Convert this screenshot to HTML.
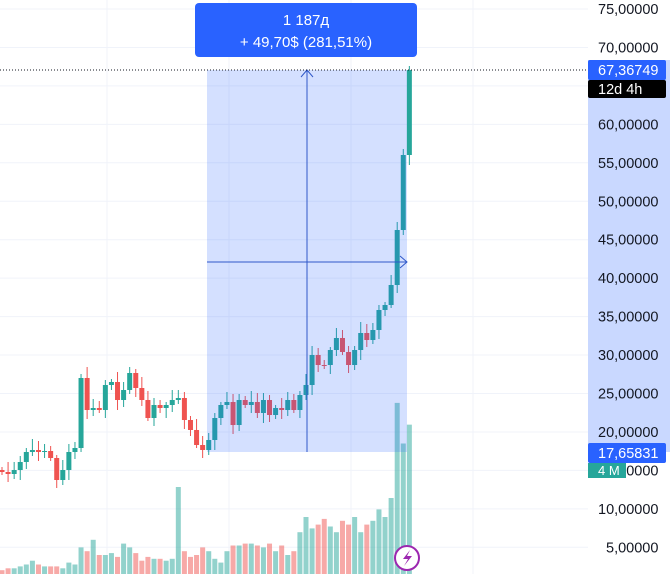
<!DOCTYPE html>
<html><head><meta charset="utf-8"><style>
html,body{margin:0;padding:0;background:#fff;}
body{width:670px;height:574px;overflow:hidden;position:relative;font-family:"Liberation Sans",sans-serif;}
svg{position:absolute;left:0;top:0;}
</style></head><body>
<svg id="s" width="670" height="574" xmlns="http://www.w3.org/2000/svg"></svg>
<script>
const s=document.getElementById('s');let h='';
for(let p=5;p<=75;p+=5){const y=9+(75-p)*7.69;h+=`<line x1="0" x2="588" y1="${y}" y2="${y}" stroke="#f0f3fa"/>`;}
[107,229,351,473].forEach(x=>h+=`<line x1="${x}" x2="${x}" y1="0" y2="574" stroke="#f0f3fa"/>`);
const closes=[472,474,470,462,452,450,452,451,458,480,470,452,448,378,410,408,410,385,382,400,390,373,388,400,418,405,408,405,400,398,420,430,445,450,440,418,405,402,425,400,405,402,413,400,415,408,410,400,410,395,385,355,365,365,350,338,352,365,350,333,340,330,310,305,285,230,155,70];
const vols=[2,3,3,4,5,7,5,4,4,4,3,6,5,14,12,18,10,10,11,9,16,14,11,7,9,8,8,7,8,60,12,9,10,14,12,8,6,12,15,15,16,16,15,14,16,12,15,10,12,22,30,24,26,29,25,22,28,26,30,22,26,28,34,30,40,118,90,103];
closes.forEach((c,i)=>{const x=2+i*6.08;const o=i==0?470:closes[i-1];const up=c<o;
 const v=vols[i];const m=i>=65?1.45:(i==29?1.45:1.9);const vy=574-v*m;
 h+=`<rect x="${x-2.5}" y="${vy}" width="5" height="${574-vy}" fill="${(up||i==29)?'#26a69a':'#ef5350'}" fill-opacity="0.5"/>`;});
closes.forEach((c,i)=>{const x=2+i*6.08;const o=i==0?470:closes[i-1];const up=c<o;
 const top=Math.min(o,c),bot=Math.max(o,c);const wt=top-3-((i*7)%9),wb=bot+3+((i*5)%8);
 const col=up?'#26a69a':'#ef5350';
 h+=`<line x1="${x}" x2="${x}" y1="${wt}" y2="${wb}" stroke="${col}"/>`;
 h+=`<rect x="${x-2.5}" y="${top}" width="5" height="${Math.max(1,bot-top)}" fill="${col}"/>`;});
h+=`<rect x="207" y="70" width="200" height="382" fill="#2962ff" fill-opacity="0.2"/>`;
h+=`<line x1="307" x2="307" y1="70" y2="452" stroke="#2f58c9"/><polyline points="301,77 307,70 313,77" fill="none" stroke="#2f58c9"/>`;
h+=`<line x1="207" x2="407" y1="262" y2="262" stroke="#2f58c9"/><polyline points="400,256 407,262 400,268" fill="none" stroke="#2f58c9"/>`;
h+=`<line x1="0" x2="588" y1="70" y2="70" stroke="#131722" stroke-dasharray="1,2"/>`;
h+=`<rect x="588" y="60" width="82" height="392" fill="#2962ff" fill-opacity="0.25"/>`;
for(let p=5;p<=75;p+=5){const y=9+(75-p)*7.69;h+=`<text x="${p<10?606:598}" y="${y+5}" font-size="14.5" fill="#131722">${p},00000</text>`;}
h+=`<rect x="588" y="60" width="78" height="20" rx="2" fill="#2962ff"/><text x="598" y="75" font-size="14.5" fill="#fff">67,36749</text>`;
h+=`<rect x="588" y="80" width="78" height="18" rx="2" fill="#000"/><text x="598" y="94" font-size="14.5" fill="#fff">12d 4h</text>`;
h+=`<rect x="588" y="443" width="78" height="20" rx="2" fill="#2962ff"/><text x="598" y="458" font-size="14.5" fill="#fff">17,65831</text>`;
h+=`<rect x="588" y="463" width="38" height="15" fill="#26a69a"/><text x="598" y="475" font-size="13" fill="#fff">4 M</text>`;
h+=`<rect x="195" y="3" width="222" height="54" rx="4" fill="#2962ff"/>`;
h+=`<text x="306" y="25" font-size="15" fill="#fff" text-anchor="middle">1 187д</text>`;
h+=`<text x="306" y="47" font-size="15" fill="#fff" text-anchor="middle">+ 49,70$ (281,51%)</text>`;
h+=`<circle cx="407" cy="558" r="12" fill="#fff" stroke="#9c27b0" stroke-width="2"/><path d="M410,550 L403,559 L408,559 L404,566 L412,556 L407,556 Z" fill="#9c27b0"/>`;
s.innerHTML=h;
</script>
</body></html>
